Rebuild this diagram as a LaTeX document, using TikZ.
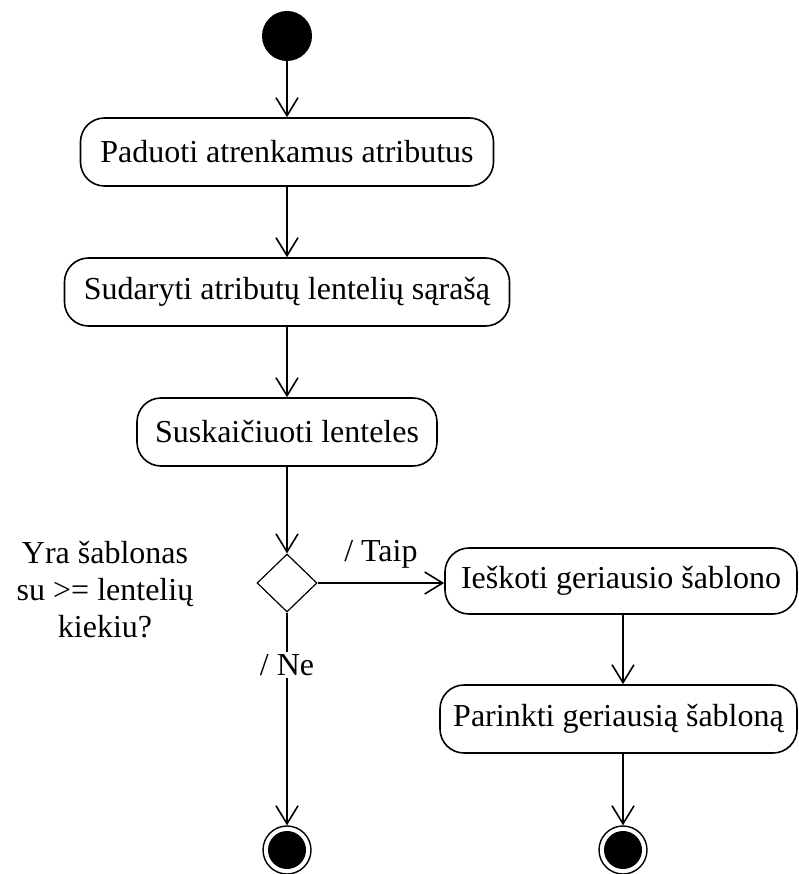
\documentclass[tikz,border=0pt]{standalone}
\usepackage{fontspec}
\setmainfont{Liberation Serif}
\usetikzlibrary{arrows.meta,shapes.geometric}
\begin{document}
\begin{tikzpicture}[x=1pt,y=-1pt,
  every node/.style={font=\fontsize{32}{37}\selectfont},
  action/.style={draw,line width=1.6pt,rounded corners=24pt,minimum height=68pt,inner sep=0pt,anchor=center},
  flow/.style={line width=1.6pt,-{Straight Barb[length=18pt,width=22pt,line width=1.6pt]}},
  guard/.style={fill=white,inner sep=2pt}]
\useasboundingbox (0,0) rectangle (799,874);
% start and end states
\node[circle,fill=black,minimum size=50pt,inner sep=0pt] (start) at (287,36) {};
\node[circle,draw,line width=1.4pt,minimum size=48pt,inner sep=0pt] (endA) at (287,850) {};
\fill (endA.center) circle (19pt);
\node[circle,draw,line width=1.4pt,minimum size=48pt,inner sep=0pt] (endB) at (623,850) {};
\fill (endB.center) circle (19pt);
% actions
\node[action,minimum width=413pt] (a1) at (287,152) {Paduoti atrenkamus atributus};
\node[action,minimum width=445pt] (a2) at (287,292) {Sudaryti atributų lentelių sąrašą};
\node[action,minimum width=300pt] (a3) at (287,432) {Suskaičiuoti lenteles};
\node[diamond,draw,line width=1.2pt,minimum width=60pt,minimum height=58pt,inner sep=0pt] (dec) at (287,583) {};
\node[action,minimum width=352pt,minimum height=66pt] (a4) at (621,581) {Ieškoti geriausio šablono};
\node[action,minimum width=357pt] (a5) at (618.5,719) {Parinkti geriausią šabloną};
% decision question
\node[align=center] (q) at (105,590) {Yra šablonas\\su >= lentelių\\kiekiu?};
% flows
\draw[flow] (start) -- (a1);
\draw[flow] (a1) -- (a2);
\draw[flow] (a2) -- (a3);
\draw[flow] (a3) -- (dec.north);
\draw[flow] (dec.east) -- node[above=11pt] (taip) {/ Taip} (a4.west |- dec.east);
\draw[flow] (a4.south -| 623,0) -- (a5.north -| 623,0);
\draw[flow] (a5.south -| 623,0) -- (endB);
\draw[flow] (dec.south) -- (endA);
\node[guard] (ne) at (287,665) {/ Ne};
\end{tikzpicture}
\end{document}
